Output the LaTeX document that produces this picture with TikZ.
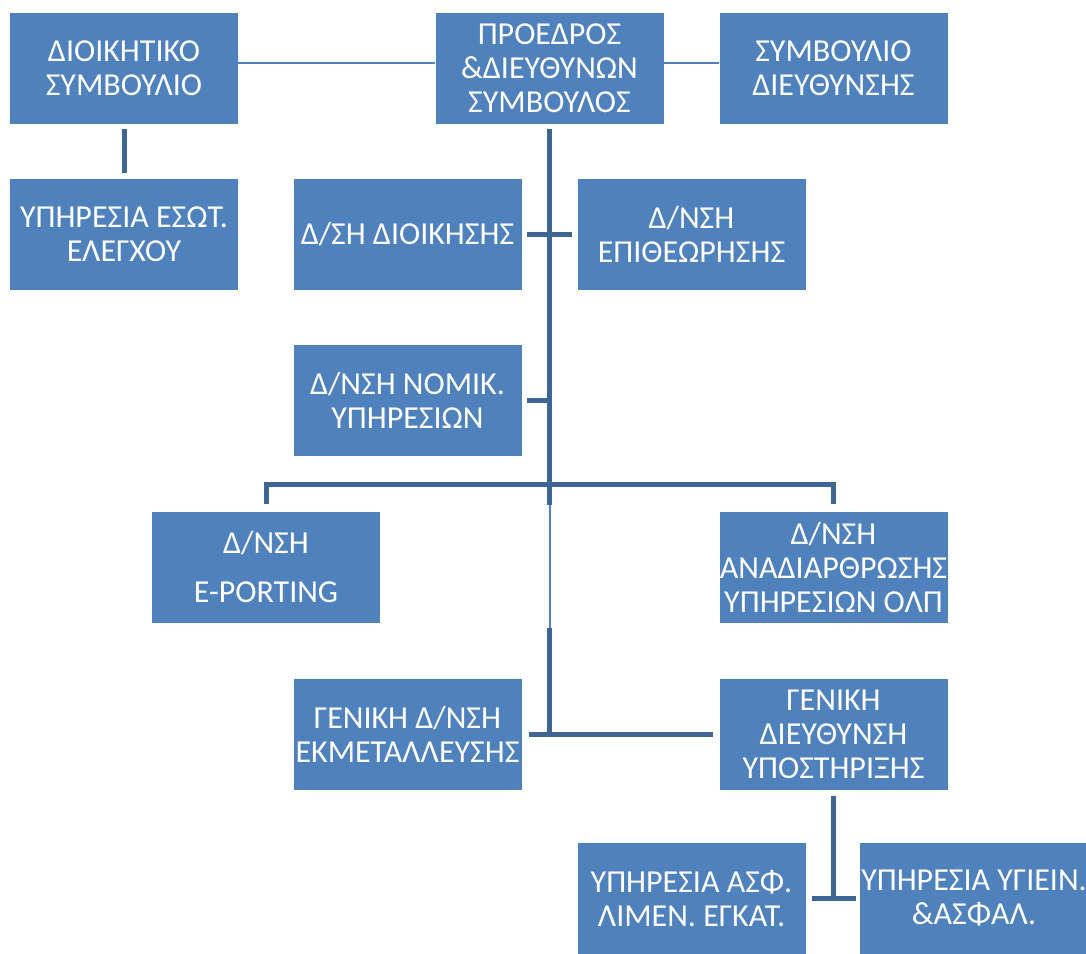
\documentclass[tikz,border=0pt]{standalone}
\usepackage{fontspec}
\setmainfont{Carlito}
\usepackage{xcolor}
\usepackage{tikz}
\usetikzlibrary{positioning}
\definecolor{boxblue}{HTML}{4F81BD}
\definecolor{linkblue}{HTML}{3D6596}

\begin{document}
\begin{tikzpicture}[
      x=1pt, y=-1pt,
      unit/.style={rectangle, fill=boxblue, text=white, minimum width=228pt, minimum height=111pt, inner sep=0pt, align=center, font=\fontsize{32}{34}\selectfont},
      link/.style={draw=linkblue, line width=5pt},
      thinlink/.style={draw=boxblue, line width=2pt}
    ]
    \useasboundingbox (0,0) rectangle (1086,953);

    \node [unit] (board) at (124,68.5) {ΔΙΟΙΚΗΤΙΚΟ\\ΣΥΜΒΟΥΛΙΟ};
    \node [unit, right of=board, node distance=425.5pt] (ceo) {ΠΡΟΕΔΡΟΣ\\\&ΔΙΕΥΘΥΝΩΝ\\ΣΥΜΒΟΥΛΟΣ};
    \node [unit, right of=ceo, node distance=284pt] (mgmt) {ΣΥΜΒΟΥΛΙΟ\\ΔΙΕΥΘΥΝΣΗΣ};
    \node [unit, below of=board, node distance=166pt] (audit) {ΥΠΗΡΕΣΙΑ ΕΣΩΤ.\\ΕΛΕΓΧΟΥ};
    \node [unit] (admin) at (407.5,234.5) {Δ/ΣΗ ΔΙΟΙΚΗΣΗΣ};
    \node [unit, right of=admin, node distance=284pt] (inspect) {Δ/ΝΣΗ\\ΕΠΙΘΕΩΡΗΣΗΣ};
    \node [unit, below of=admin, node distance=166pt] (legal) {Δ/ΝΣΗ ΝΟΜΙΚ.\\ΥΠΗΡΕΣΙΩΝ};
    \node [unit] (eport) at (266,567) {Δ/ΝΣΗ\\[15pt]E-PORTING};
    \node [unit, below of=mgmt, node distance=498.5pt] (restruct) {Δ/ΝΣΗ\\ΑΝΑΔΙΑΡΘΡΩΣΗΣ\\ΥΠΗΡΕΣΙΩΝ ΟΛΠ};
    \node [unit, below of=legal, node distance=333.5pt] (exploit) {ΓΕΝΙΚΗ Δ/ΝΣΗ\\ΕΚΜΕΤΑΛΛΕΥΣΗΣ};
    \node [unit, right of=exploit, node distance=426pt] (support) {ΓΕΝΙΚΗ\\ΔΙΕΥΘΥΝΣΗ\\ΥΠΟΣΤΗΡΙΞΗΣ};
    \node [unit] (portsec) at (691.5,898.5) {ΥΠΗΡΕΣΙΑ ΑΣΦ.\\ΛΙΜΕΝ. ΕΓΚΑΤ.};
    \node [unit, right of=portsec, node distance=282.5pt] (health) {ΥΠΗΡΕΣΙΑ ΥΓΙΕΙΝ.\\\&ΑΣΦΑΛ.};

    \coordinate (bar) at (549.5,484);
    \coordinate (split) at (549.5,505);
    \coordinate (rejoin) at (549.5,628);

    \path [thinlink] ([yshift=6pt]board.east) -- ([yshift=6pt]ceo.west);
    \path [thinlink] ([yshift=6pt]ceo.east) -- ([yshift=6pt]mgmt.west);
    \path [link] ([yshift=-5pt]board.south) -- ([yshift=6pt]audit.north);
    \path [link] ([yshift=-5pt]ceo.south) -- (split);
    \path [link] ([xshift=5pt]admin.east) -- ([xshift=-5pt]inspect.west);
    \path [link] ([xshift=5pt]legal.east) -- (legal.east -| bar);
    \path [link] ([yshift=7pt]eport.north) |- (bar) -| ([yshift=7pt]restruct.north);
    \path [thinlink] (split) -- (rejoin);
    \path [link] (rejoin) -- (exploit.east -| rejoin);
    \path [link] ([xshift=7pt]exploit.east) -- ([xshift=-6pt]support.west);
    \path [link] ([yshift=-6pt]support.south) -- (support.south |- portsec.east);
    \path [link] ([xshift=6pt]portsec.east) -- ([xshift=-4pt]health.west);

    \end{tikzpicture}
\end{document}
